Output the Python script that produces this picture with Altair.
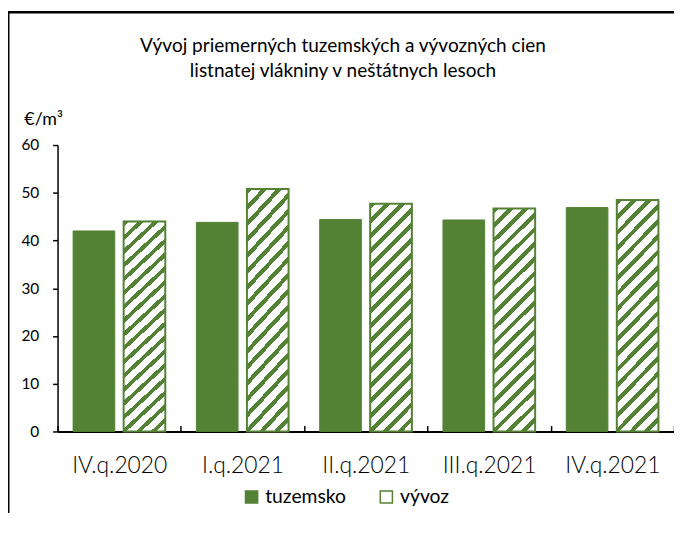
import altair as alt
import pandas as pd

categories = ["IV.q.2020", "I.q.2021", "II.q.2021", "III.q.2021", "IV.q.2021"]
series = ["tuzemsko", "vývoz"]
tuzemsko = [42.0, 43.8, 44.4, 44.3, 46.9]
vyvoz = [44.0, 50.8, 47.7, 46.7, 48.5]

rows = []
for c, t, v in zip(categories, tuzemsko, vyvoz):
    rows.append({"kvartal": c, "seria": "tuzemsko", "hodnota": t})
    rows.append({"kvartal": c, "seria": "vývoz", "hodnota": v})
df = pd.DataFrame(rows)

GREEN = "#548235"
FONT = "Lato"

# diagonal hatch built as a hard-stop linear gradient
N = 18
stops = []
for i in range(N):
    a = i / N
    b = (i + 0.38) / N
    e = (i + 1) / N
    stops += [
        {"offset": a, "color": GREEN},
        {"offset": b, "color": GREEN},
        {"offset": b, "color": "white"},
        {"offset": e, "color": "white"},
    ]
hatch = {"gradient": "linear", "x1": 0, "y1": 0, "x2": 0.211, "y2": 1.145, "stops": stops}

x_enc = alt.X(
    "kvartal:N",
    sort=categories,
    scale=alt.Scale(paddingInner=0, paddingOuter=0),
    axis=alt.Axis(
        title=None, labelAngle=0, labelFont=FONT, labelFontSize=23, labelFontWeight=300,
        labelColor="black", labelPadding=29, domainColor="black", domainWidth=2,
        tickColor="black", tickWidth=1.5, tickSize={"expr": "-6"}, tickBand="extent",
    ),
)
y_enc = alt.Y(
    "hodnota:Q",
    scale=alt.Scale(domain=[0, 60], nice=False),
    axis=alt.Axis(
        values=[0, 10, 20, 30, 40, 50, 60], title="€/m³", titleAngle=0, titleX=-34, titleY=-26,
        titleAlign="left", titleBaseline="middle", titleFont=FONT, titleFontSize=18,
        titleFontWeight="normal", titleColor="black", labelFont=FONT, labelFontSize=15.5,
        labelColor="black", labelPadding=14, tickColor="black", tickSize=5, tickWidth=1.5,
        domainColor="black", domainWidth=1.5, grid=False,
    ),
)
xoff = alt.XOffset("seria:N", sort=series, scale=alt.Scale(paddingInner=0.176, paddingOuter=0.308))

bars = alt.Chart(df).mark_bar(strokeWidth=1).encode(
    x=x_enc,
    y=y_enc,
    xOffset=xoff,
    fill=alt.Fill(
        "seria:N",
        scale=alt.Scale(domain=series, range=[GREEN, "white"]),
        legend=alt.Legend(
            title=None, orient="none", legendX=186, legendY=345, direction="horizontal",
            symbolType="square", symbolSize=150, symbolStrokeColor=GREEN, symbolStrokeWidth=1.5,
            labelFont=FONT, labelFontSize=19.5, labelColor="black", labelOffset=4,
            columnPadding=30,
        ),
    ),
    stroke=alt.value(GREEN),
)

hatched = alt.Chart(df).transform_filter(alt.datum.seria == "vývoz").mark_bar(strokeWidth=2).encode(
    x=x_enc,
    y=y_enc,
    xOffset=xoff,
    fill=alt.value(hatch),
    stroke=alt.value(GREEN),
)

frame = alt.Chart(alt.Data(values=[{}]))
left_line = frame.mark_rule(color="black", strokeWidth=2).encode(
    x=alt.value(-49.5), y=alt.value(-134), y2=alt.value(380)
)
top_line = frame.mark_rule(color="black", strokeWidth=2.5).encode(
    x=alt.value(-51), x2=alt.value(630), y=alt.value(-134), y2=alt.value(-134)
)

chart = alt.layer(bars, hatched, left_line, top_line).properties(
    width=622,
    height=289,
    autosize=alt.AutoSizeParams(type="none"),
    padding={"left": 50, "top": 136, "right": 0, "bottom": 80},
    title=alt.Title(
        text=["Vývoj priemerných tuzemských a vývozných cien", "listnatej vlákniny v neštátnych lesoch"],
        font=FONT, fontSize=19.2, fontWeight="normal", color="black", anchor="middle",
        dx=-23, offset=0, dy=71, lineHeight=25,
    ),
).configure_view(stroke=None)

chart.save("out.html", embed_options={"renderer": "svg", "actions": False})
